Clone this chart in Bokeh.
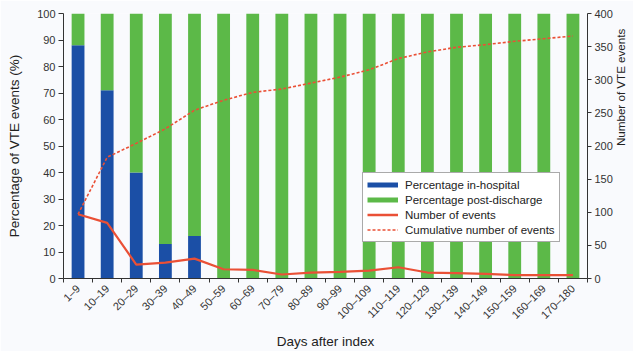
import numpy as np
from math import pi
from bokeh.plotting import figure
from bokeh.models import (ColumnDataSource, Range1d, LinearAxis, FixedTicker,
                          Legend, LegendItem)
from bokeh.embed import file_html
from bokeh.resources import INLINE

categories = ["1–9", "10–19", "20–29", "30–39", "40–49", "50–59", "60–69",
              "70–79", "80–89", "90–99", "100–109", "110–119", "120–129",
              "130–139", "140–149", "150–159", "160–169", "170–180"]
pct_in_hospital = [88, 71, 40, 13, 16, 0, 0, 0, 0, 0, 0, 0, 0, 0, 0, 0, 0, 0]
pct_post_discharge = [12, 29, 60, 87, 84, 100, 100, 100, 100, 100, 100, 100,
                      100, 100, 100, 100, 100, 100]
number_of_events = [97, 84, 21, 24, 30, 14, 13, 6, 9, 10, 12, 17, 9, 8, 7, 5, 5, 5]
cumulative_events = [97, 183, 204, 226, 254, 269, 281, 286, 295, 304, 315, 332,
                     342, 349, 353, 358, 362, 366]
left_ticks = list(range(0, 101, 10))
right_ticks = list(range(0, 401, 50))

BLUE = "#1b4fa6"
GREEN = "#5cb948"
RED = "#ea5036"
BG = "#f9fafd"
FONT = "Liberation Sans"
TXT = "#222222"

n = len(categories)
xc = [i + 0.5 for i in range(n)]
src = ColumnDataSource(dict(x=xc, inhosp=pct_in_hospital, post=pct_post_discharge,
                            num=number_of_events, cum=cumulative_events))

p = figure(frame_width=524, frame_height=265, output_backend="svg",
           toolbar_location=None,
           x_range=Range1d(0, n), y_range=Range1d(0, 100),
           min_border_left=63, min_border_right=46, min_border_top=13,
           min_border_bottom=73, background_fill_color=BG, border_fill_color=BG,
           outline_line_color=None)
p.xgrid.visible = False
p.ygrid.visible = False

p.extra_y_ranges = {"n": Range1d(0, 400)}

p.vbar_stack(["inhosp", "post"], x="x", width=0.44, color=[BLUE, GREEN],
             line_color=None, source=src)
p.line("x", "num", source=src, y_range_name="n", line_color=RED, line_width=2.2)
p.line("x", "cum", source=src, y_range_name="n", line_color=RED, line_width=1.6,
       line_dash="3 2")

# legend proxies (drawn outside the visible ranges)
off = dict(x=[-5, -4], y=[-5, -5])
r1 = p.line(x=off["x"], y=off["y"], line_color=BLUE, line_width=5)
r2 = p.line(x=off["x"], y=off["y"], line_color=GREEN, line_width=5)
r3 = p.line(x=off["x"], y=off["y"], line_color=RED, line_width=2.5)
r4 = p.line(x=off["x"], y=off["y"], line_color=RED, line_width=1.5, line_dash="3 2")
legend = Legend(items=[LegendItem(label="Percentage in-hospital", renderers=[r1]),
                       LegendItem(label="Percentage post-discharge", renderers=[r2]),
                       LegendItem(label="Number of events", renderers=[r3]),
                       LegendItem(label="Cumulative number of events", renderers=[r4])],
                location=(299, 36), margin=0, padding=4, spacing=0,
                glyph_width=31, glyph_height=15, label_height=15, label_standoff=7,
                label_text_font=FONT, label_text_font_size="11.5px",
                label_text_color=TXT, border_line_color="#555555",
                border_line_width=1, background_fill_color="white",
                background_fill_alpha=1.0)
p.add_layout(legend, "center")

# x axis
xa = p.xaxis[0]
xa.ticker = FixedTicker(ticks=xc, minor_ticks=list(range(0, n + 1)))
xa.major_label_overrides = {x: c for x, c in zip(xc, categories)}
xa.major_label_orientation = pi / 4
xa.major_tick_out = 0
xa.major_tick_in = 0
xa.minor_tick_out = 4
xa.minor_tick_in = 0
xa.major_label_standoff = 4
xa.axis_label = "Days after index"
xa.axis_label_standoff = 6

# left axis
ya = p.yaxis[0]
ya.ticker = FixedTicker(ticks=left_ticks)
ya.major_tick_out = 5
ya.major_tick_in = 0
ya.major_label_standoff = 3
ya.axis_label = "Percentage of VTE events (%)"
ya.axis_label_standoff = 12

# right axis
ra = LinearAxis(y_range_name="n", ticker=FixedTicker(ticks=right_ticks))
ra.major_tick_out = 4
ra.major_tick_in = 0
ra.major_label_standoff = 3
ra.axis_label = "Number of VTE events"
ra.axis_label_standoff = 5
try:
    ra.axis_label_orientation = pi / 2
except Exception:
    pass
p.add_layout(ra, "right")

for ax in (xa, ya, ra):
    ax.axis_line_color = "#333333"
    ax.major_tick_line_color = "#333333"
    ax.minor_tick_line_color = "#333333" if ax is xa else None
    ax.major_label_text_font = FONT
    ax.major_label_text_font_size = "11px"
    ax.major_label_text_color = "#333333"
    ax.axis_label_text_font = FONT
    ax.axis_label_text_font_size = "13.5px"
    ax.axis_label_text_font_style = "normal"
    ax.axis_label_text_color = TXT
ra.axis_label_text_font_size = "11.6px"

open("out.html", "w").write(file_html(p, INLINE))
